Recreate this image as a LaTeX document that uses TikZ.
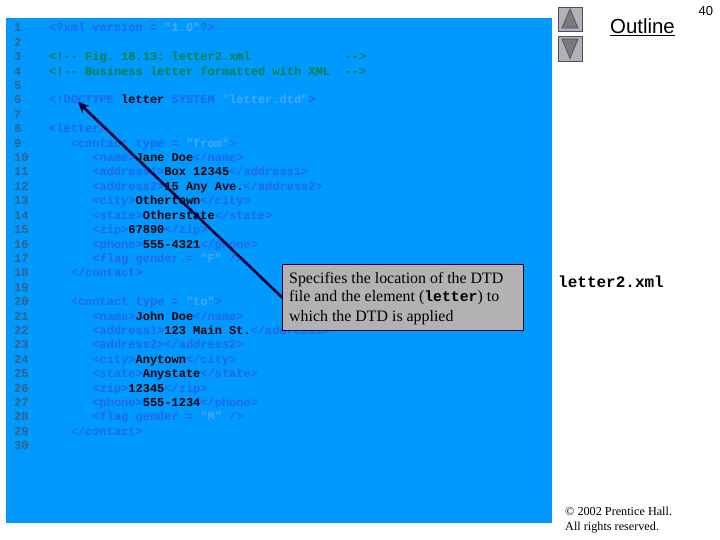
\documentclass[tikz,border=0pt]{standalone}
\usepackage{fontspec}
\setmainfont{Liberation Serif}
\newfontfamily\monof{Liberation Mono}
\newfontfamily\sansf{Liberation Sans}
\usetikzlibrary{arrows.meta}
\definecolor{panelblue}{HTML}{0099FF}
\definecolor{tagblue}{HTML}{2068E8}
\definecolor{valblue}{HTML}{4AA8FF}
\definecolor{comgreen}{HTML}{008040}
\definecolor{numgrey}{HTML}{3A5F80}
\definecolor{navy}{HTML}{000033}
\definecolor{boxgrey}{HTML}{B2B2B2}
\definecolor{trigrey}{HTML}{7A7A7A}
\newcommand{\xt}[1]{\textcolor{tagblue}{#1}}
\newcommand{\xv}[1]{\textcolor{valblue}{#1}}
\newcommand{\xc}[1]{\textcolor{comgreen}{#1}}
\frenchspacing
\tikzset{
  codetext/.style={anchor=base west,inner sep=0pt,font=\monof\bfseries\fontsize{12}{14}\selectfont,text=black},
  numtext/.style={codetext,text=numgrey},
  callout/.style={draw=navy,line width=0.8pt,fill=boxgrey,inner sep=0pt,minimum width=241pt,minimum height=66pt,anchor=north west},
  callline/.style={anchor=base west,inner sep=0pt,font=\fontsize{15.9}{18}\selectfont,text=black},
  pointer/.style={draw=navy,line width=2.6pt,-{Stealth[length=11pt,width=10pt]}},
  navbutton/.style={draw=navy!70!white,line width=0.7pt,fill=boxgrey},
  navtri/.style={draw=navy!70!white,line width=0.7pt,fill=trigrey},
  sidetext/.style={anchor=base west,inner sep=0pt,text=black}
}
\newcommand{\codeln}[3]{%
  \node[numtext] (n#1) at (14,{32+14.4*(#1-1)}) {#1};
  \node[codetext] (l#1) at ({49+7.2*#2},{32+14.4*(#1-1)}) {#3};
}
\begin{document}
\begin{tikzpicture}[x=1pt,y=-1pt]
\useasboundingbox (0,0) rectangle (720,540);
\fill[white] (0,0) rectangle (720,540);
\fill[panelblue] (6,18) rectangle (552,523);
\codeln{1}{0}{\xt{<?xml version = }\xv{"1.0"}\xt{?>}}
\codeln{2}{0}{}
\codeln{3}{0}{\xc{<!-- Fig. 18.13: letter2.xml~~~~~~~~~~~~~-->}}
\codeln{4}{0}{\xc{<!-- Business letter formatted with XML~~-->}}
\codeln{5}{0}{}
\codeln{6}{0}{\xt{<!DOCTYPE }letter \xt{SYSTEM }\xv{"letter.dtd"}\xt{>}}
\codeln{7}{0}{}
\codeln{8}{0}{\xt{<letter>}}
\codeln{9}{3}{\xt{<contact type = }\xv{"from"}\xt{>}}
\codeln{10}{6}{\xt{<name>}Jane Doe\xt{</name>}}
\codeln{11}{6}{\xt{<address1>}Box 12345\xt{</address1>}}
\codeln{12}{6}{\xt{<address2>}15 Any Ave.\xt{</address2>}}
\codeln{13}{6}{\xt{<city>}Othertown\xt{</city>}}
\codeln{14}{6}{\xt{<state>}Otherstate\xt{</state>}}
\codeln{15}{6}{\xt{<zip>}67890\xt{</zip>}}
\codeln{16}{6}{\xt{<phone>}555-4321\xt{</phone>}}
\codeln{17}{6}{\xt{<flag gender = }\xv{"F"}\xt{~/>}}
\codeln{18}{3}{\xt{</contact>}}
\codeln{19}{0}{}
\codeln{20}{3}{\xt{<contact type = }\xv{"to"}\xt{>}}
\codeln{21}{6}{\xt{<name>}John Doe\xt{</name>}}
\codeln{22}{6}{\xt{<address1>}123 Main St.\xt{</address1>}}
\codeln{23}{6}{\xt{<address2></address2>}}
\codeln{24}{6}{\xt{<city>}Anytown\xt{</city>}}
\codeln{25}{6}{\xt{<state>}Anystate\xt{</state>}}
\codeln{26}{6}{\xt{<zip>}12345\xt{</zip>}}
\codeln{27}{6}{\xt{<phone>}555-1234\xt{</phone>}}
\codeln{28}{6}{\xt{<flag gender = }\xv{"M"}\xt{~/>}}
\codeln{29}{3}{\xt{</contact>}}
\codeln{30}{0}{}
% callout
\node[callout] (box) at (282,264) {};
\coordinate (tip) at (78,102);
\draw[pointer] (box.west) -- (tip);
\node[callline] (c1) at (289,283) {Specifies the location of the DTD};
\node[callline] (c2) at (289,301) {file and the element ({\monof\bfseries\fontsize{14.8}{18}\selectfont letter}) to};
\node[callline] (c3) at (289,321) {which the DTD is applied};
% navigation buttons
\node[navbutton,minimum width=24pt,minimum height=24pt,inner sep=0pt] (up) at (570,19) {};
\node[navbutton,minimum width=24pt,minimum height=25pt,inner sep=0pt] (down) at (570,48.5) {};
\draw[navtri] (570,9) -- (578,28) -- (562,28) -- cycle;
\draw[navtri] (562,39) -- (578,39) -- (570,58.5) -- cycle;
% side texts
\node[sidetext,font=\sansf\fontsize{20.4}{22}\selectfont] (outline) at (610,34) {\underline{Outline}};
\node[sidetext,font=\sansf\fontsize{13}{15}\selectfont] (page) at (698.5,15.5) {40};
\node[sidetext,font=\monof\bfseries\fontsize{16}{18}\selectfont] (fname) at (558,287) {letter2.xml};
\node[sidetext,font=\fontsize{12.2}{14}\selectfont] (copy1) at (565,515) {© 2002 Prentice Hall.};
\node[sidetext,font=\fontsize{12.2}{14}\selectfont] (copy2) at (565,530) {All rights reserved.};
\end{tikzpicture}
\end{document}
